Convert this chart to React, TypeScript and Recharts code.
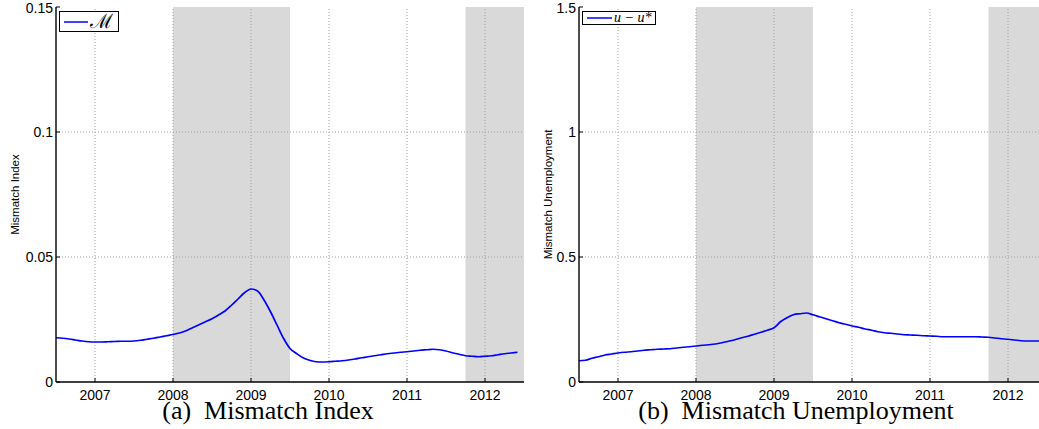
import React from 'react';
import {
  Legend,
  Line,
  LineChart,
  ReferenceArea,
  ReferenceLine,
  XAxis,
  YAxis,
} from 'recharts';

// monthly series, Jul 2006 .. Jun 2012
const START_YEAR = 2006.5;
const yearTicks = [2007, 2008, 2009, 2010, 2011, 2012];
const xDomain: [number, number] = [2006.5, 2012.5];
const recessions: [number, number][] = [
  [2008, 2009.5],
  [2011.75, 2012.5],
];

const indexTicks = [0, 0.05, 0.1, 0.15];
const unempTicks = [0, 0.5, 1, 1.5];

const mismatchIndex = [
  0.0177, 0.0175, 0.0172, 0.0168, 0.0164, 0.0161, 0.016, 0.016, 0.0161, 0.0162, 0.0163, 0.0163,
  0.0164, 0.0167, 0.0171, 0.0175, 0.018, 0.0185, 0.019, 0.0196, 0.0205, 0.0217, 0.0229, 0.0241,
  0.0253, 0.0268, 0.0284, 0.0307, 0.0332, 0.0357, 0.0372, 0.0364, 0.0328, 0.0281, 0.0228, 0.0175,
  0.0134, 0.0114, 0.0097, 0.0087, 0.0081, 0.008, 0.0081, 0.0083, 0.0085, 0.0088, 0.0092, 0.0097,
  0.0101, 0.0105, 0.0109, 0.0113, 0.0116, 0.0119, 0.0121, 0.0124, 0.0127, 0.0129, 0.0131, 0.0129,
  0.0124, 0.0117, 0.0111, 0.0105, 0.0103, 0.0101, 0.0103, 0.0105, 0.0109, 0.0113, 0.0116, 0.0119,
];

const mismatchUnemployment = [
  0.085, 0.087, 0.095, 0.101, 0.108, 0.112, 0.116, 0.119, 0.121, 0.124, 0.127, 0.129,
  0.131, 0.132, 0.133, 0.136, 0.139, 0.141, 0.144, 0.147, 0.149, 0.152, 0.157, 0.163,
  0.169, 0.177, 0.183, 0.191, 0.199, 0.207, 0.217, 0.241, 0.257, 0.269, 0.273, 0.276,
  0.269, 0.261, 0.253, 0.245, 0.237, 0.231, 0.224, 0.219, 0.212, 0.207, 0.201, 0.197,
  0.195, 0.192, 0.189, 0.188, 0.187, 0.185, 0.184, 0.183, 0.181, 0.181, 0.181, 0.181,
  0.181, 0.181, 0.18, 0.179, 0.176, 0.173, 0.171, 0.168, 0.165, 0.164, 0.164, 0.164,
];

const toRows = (vals: number[]) => vals.map((v, i) => ({ t: START_YEAR + i / 12, v }));

const GRID = '#a0a0a0';
const AXIS = '#000';
const SANS = '"Liberation Sans", Arial, sans-serif';
const SERIF = '"Liberation Serif", "Times New Roman", serif';

function LegendBox({ wide, children }: { wide: boolean; children: React.ReactNode }) {
  return (
    <div
      style={{
        display: 'flex',
        alignItems: 'center',
        border: '1.5px solid #000',
        background: '#fff',
        height: wide ? 19 : 12,
        padding: wide ? '0 5px 0 4px' : '0 4px',
      }}
    >
      <svg width={wide ? 24 : 25} height={4} style={{ marginRight: 2 }}>
        <line x1={0} y1={2} x2={wide ? 24 : 25} y2={2} stroke="#0000ff" strokeWidth={1.5} />
      </svg>
      {children}
    </div>
  );
}

function Panel({
  rows,
  yTicks,
  yLabel,
  labelDx,
  legend,
  wideLegend,
}: {
  rows: { t: number; v: number }[];
  yTicks: number[];
  yLabel: string;
  labelDx: number;
  legend: React.ReactNode;
  wideLegend: boolean;
}) {
  const yMax = yTicks[yTicks.length - 1];
  return (
    <LineChart
      width={530}
      height={420}
      data={rows}
      margin={{ top: 7, right: 6, bottom: 0, left: 0 }}
      style={{ fontFamily: SANS }}
    >
      {recessions.map(([a, b]) => (
        <ReferenceArea key={a} x1={a} x2={b} fill="#d9d9d9" fillOpacity={1} stroke="none" />
      ))}
      {yearTicks.map((yr) => (
        <ReferenceLine key={'x' + yr} x={yr} stroke={GRID} strokeDasharray="1 2" />
      ))}
      {yTicks.slice(1, -1).map((v) => (
        <ReferenceLine key={'y' + v} y={v} stroke={GRID} strokeDasharray="1 2" />
      ))}
      <XAxis
        dataKey="t"
        type="number"
        domain={xDomain}
        ticks={yearTicks}
        allowDataOverflow
        height={38}
        tickSize={-4}
        tickMargin={12}
        fontSize={14}
        tick={{ fill: '#000', fontSize: 14 }}
        axisLine={{ stroke: AXIS, strokeWidth: 1.4 }}
        tickLine={{ stroke: AXIS }}
      />
      <XAxis
        xAxisId="top"
        orientation="top"
        dataKey="t"
        type="number"
        domain={xDomain}
        ticks={yearTicks}
        allowDataOverflow
        mirror
        height={0}
        tickSize={4}
        tick={false}
        axisLine={{ stroke: AXIS, strokeWidth: 1.4 }}
        tickLine={{ stroke: AXIS }}
      />
      <YAxis
        type="number"
        domain={[0, yMax]}
        ticks={yTicks}
        width={56}
        tickSize={-4}
        tickMargin={7}
        fontSize={14}
        tick={{ fill: '#000', fontSize: 14 }}
        axisLine={{ stroke: AXIS, strokeWidth: 1.4 }}
        tickLine={{ stroke: AXIS }}
        label={{
          value: yLabel,
          angle: -90,
          position: 'center',
          dx: labelDx,
          style: { fontSize: 11.5, fill: '#000' },
        }}
      />
      <YAxis
        yAxisId="right"
        orientation="right"
        type="number"
        domain={[0, yMax]}
        ticks={yTicks}
        mirror
        width={0}
        tickSize={4}
        tick={false}
        axisLine={{ stroke: AXIS, strokeWidth: 1.4 }}
        tickLine={{ stroke: AXIS }}
      />
      <Legend
        layout="horizontal"
        verticalAlign="middle"
        wrapperStyle={{ left: 59, top: 11, width: 'auto', height: 'auto' }}
        content={() => <LegendBox wide={wideLegend}>{legend}</LegendBox>}
      />
      <Line
        type="monotone"
        dataKey="v"
        stroke="#0000ff"
        strokeWidth={1.7}
        dot={false}
        isAnimationActive={false}
      />
    </LineChart>
  );
}

export default function App() {
  return (
    <div
      style={{
        position: 'fixed',
        left: 0,
        top: 0,
        width: 1039,
        height: 429,
        overflow: 'hidden',
        background: '#fff',
      }}
    >
      <div style={{ position: 'absolute', left: 0, top: 0 }}>
        <Panel
          rows={toRows(mismatchIndex)}
          yTicks={indexTicks}
          yLabel="Mismatch Index"
          labelDx={-13}
          wideLegend
          legend={
            <span style={{ fontFamily: '"DejaVu Serif", serif', fontSize: 20, lineHeight: '19px' }}>
              ℳ
            </span>
          }
        />
      </div>
      <div style={{ position: 'absolute', left: 523, top: 0 }}>
        <Panel
          rows={toRows(mismatchUnemployment)}
          yTicks={unempTicks}
          yLabel="Mismatch Unemployment"
          labelDx={-3}
          wideLegend={false}
          legend={
            <span style={{ fontFamily: SERIF, fontStyle: 'italic', fontSize: 14, lineHeight: '12px' }}>
              u − u*
            </span>
          }
        />
      </div>
      {[
        { text: '(a)  Mismatch Index', cx: 268 },
        { text: '(b)  Mismatch Unemployment', cx: 796 },
      ].map((c) => (
        <div
          key={c.text}
          style={{
            position: 'absolute',
            left: c.cx,
            top: 406,
            transform: 'translateX(-50%)',
            fontFamily: SERIF,
            fontSize: 26,
            lineHeight: '10px',
            whiteSpace: 'pre',
            color: '#000',
          }}
        >
          {c.text}
        </div>
      ))}
    </div>
  );
}
